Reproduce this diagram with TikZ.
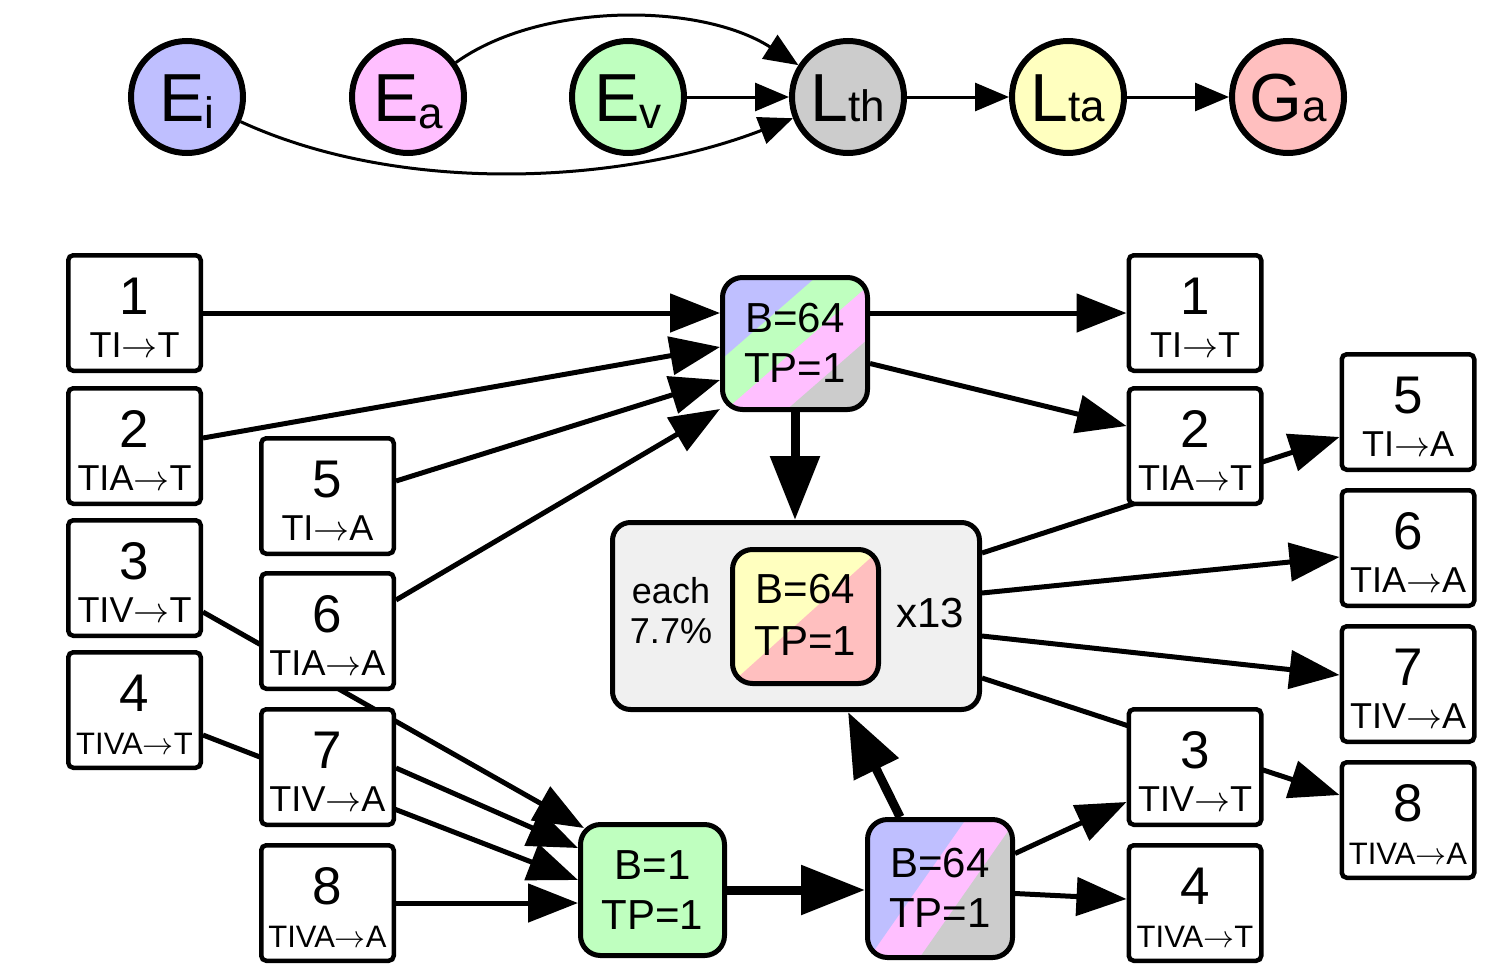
\RequirePackage{fix-cm}
\documentclass[tikz,border=0pt]{standalone}
\usepackage{fontspec}
\setmainfont{Liberation Sans}
\usetikzlibrary{arrows.meta,calc,backgrounds}

\definecolor{cBlue}{RGB}{191,191,255}
\definecolor{cPink}{RGB}{255,191,255}
\definecolor{cGreen}{RGB}{191,255,191}
\definecolor{cGrey}{RGB}{204,204,204}
\definecolor{cYellow}{RGB}{255,255,191}
\definecolor{cRed}{RGB}{255,191,191}
\definecolor{cPanel}{RGB}{240,240,240}

\newcommand\fsz[1]{\fontsize{#1}{#1}\selectfont}
\newcommand\lowsub[1]{\raisebox{-7pt}{\fsz{44}#1}}
\newcommand\smallpart[1]{{\fsz{44}#1}}
\newcommand\arr{$\rightarrow$}

% numbered operation box: name, x, y, number, caption, caption style
\newcommand\opbox[6]{%
  \node[kbox] (#1) at (#2,#3) {};
  \node[kdigit] (#1-d) at ([yshift=-1pt]#1.center) {#4};
  \node[#6] (#1-t) at ([yshift=-44pt]#1.center) {#5};
}
% two text lines inside a processing node
\newcommand\proclines[3]{%
  \node[ptext] (#1-a) at ([yshift=11pt]#1.center) {#2};
  \node[ptext] (#1-b) at ([yshift=-39pt]#1.center) {#3};
}

\tikzset{
  circ/.style={circle, draw, line width=6pt, minimum size=112pt, inner sep=0pt,
    text height=49pt, text depth=0pt, font=\fsz{68}},
  kbox/.style={draw, line width=4.5pt, rounded corners=5pt, fill=white,
    minimum width=132.5pt, minimum height=115.5pt, inner sep=0pt},
  kdigit/.style={anchor=base, inner sep=0pt, font=\fsz{53}},
  klab/.style={anchor=base, inner sep=0pt, font=\fsz{36}},
  klabs/.style={anchor=base, inner sep=0pt, font=\fsz{31}},
  proc/.style={draw, line width=5pt, rounded corners=20pt, inner sep=0pt},
  ptext/.style={anchor=base, inner sep=0pt, font=\fsz{42}},
  ftext/.style={anchor=base, inner sep=0pt, font=\fsz{36}},
  thinarrow/.style={line width=3pt, -{Triangle[length=34pt,width=28pt]}},
  edge/.style={line width=5pt, -{Triangle[length=50pt,width=38pt]}},
  boldedge/.style={line width=9pt, -{Triangle[length=64pt,width=48pt]}},
}

\begin{document}
\begin{tikzpicture}[x=1pt,y=-1pt]
\useasboundingbox (0,0) rectangle (1496,964);

% ---- top row: dependency chain ----
\node[circ, fill=cBlue]   (Ei)  at (187,97)  {E\lowsub{i}};
\node[circ, fill=cPink]   (Ea)  at (408,97)  {E\lowsub{a}};
\node[circ, fill=cGreen]  (Ev)  at (628,97)  {E\lowsub{v}};
\node[circ, fill=cGrey]   (Lth) at (848,97)  {L\smallpart{th}};
\node[circ, fill=cYellow] (Lta) at (1068,97) {L\smallpart{ta}};
\node[circ, fill=cRed]    (Ga)  at (1288,97) {G\smallpart{a}};

\draw[thinarrow] (Ev) -- (Lth);
\draw[thinarrow] (Lth) -- (Lta);
\draw[thinarrow] (Lta) -- (Ga);
\draw[thinarrow] (Ea) .. controls (540,2) and (700,2) .. (Lth);
\draw[thinarrow] (Ei) .. controls (400,195) and (620,185) .. (Lth);

% ---- input boxes ----
\opbox{L1}{134.5}{313}{1}{TI\arr T}{klab}
\opbox{L2}{134.5}{446}{2}{TIA\arr T}{klab}
\opbox{L3}{134.5}{578}{3}{TIV\arr T}{klab}
\opbox{L4}{134.5}{710}{4}{TIVA\arr T}{klabs}
\opbox{C5}{327.5}{496}{5}{TI\arr A}{klab}
\opbox{C6}{327.5}{631}{6}{TIA\arr A}{klab}
\opbox{C7}{327.5}{767}{7}{TIV\arr A}{klab}
\opbox{C8}{327.5}{903}{8}{TIVA\arr A}{klabs}

% ---- output boxes ----
\opbox{R1}{1195}{313}{1}{TI\arr T}{klab}
\opbox{R2}{1195}{446}{2}{TIA\arr T}{klab}
\opbox{R3}{1195}{767}{3}{TIV\arr T}{klab}
\opbox{R4}{1195}{903}{4}{TIVA\arr T}{klabs}
\opbox{F5}{1408}{412}{5}{TI\arr A}{klab}
\opbox{F6}{1408}{548}{6}{TIA\arr A}{klab}
\opbox{F7}{1408}{684}{7}{TIV\arr A}{klab}
\opbox{F8}{1408}{820}{8}{TIVA\arr A}{klabs}

% ---- processing nodes ----
\node[proc, minimum width=145pt, minimum height=132pt,
  path picture={
    \fill[cBlue] (path picture bounding box.north west) rectangle (path picture bounding box.south east);
    \fill[cGreen] ($(path picture bounding box.center)+(-90,30.3)$) -- ($(path picture bounding box.center)+(90,-126.3)$)
      -- ($(path picture bounding box.center)+(90,200)$) -- ($(path picture bounding box.center)+(-90,200)$) -- cycle;
    \fill[cPink] ($(path picture bounding box.center)+(-90,84.3)$) -- ($(path picture bounding box.center)+(90,-72.3)$)
      -- ($(path picture bounding box.center)+(90,200)$) -- ($(path picture bounding box.center)+(-90,200)$) -- cycle;
    \fill[cGrey] ($(path picture bounding box.center)+(-90,137.3)$) -- ($(path picture bounding box.center)+(90,-19.3)$)
      -- ($(path picture bounding box.center)+(90,200)$) -- ($(path picture bounding box.center)+(-90,200)$) -- cycle;
  }] (T) at (795,343.5) {};
\proclines{T}{B=64}{TP=1}

\node[proc, rounded corners=18pt, fill=cPanel, minimum width=367pt, minimum height=187pt] (G) at (796,616) {};
\node[proc, minimum width=146pt, minimum height=134pt,
  path picture={
    \fill[cYellow] (path picture bounding box.north west) rectangle (path picture bounding box.south east);
    \fill[cRed] ($(path picture bounding box.center)+(-90,81)$) -- ($(path picture bounding box.center)+(90,-81)$)
      -- ($(path picture bounding box.center)+(90,200)$) -- ($(path picture bounding box.center)+(-90,200)$) -- cycle;
  }] (I) at (805.5,616.5) {};
\node[ptext] (I-a) at ([yshift=13.5pt]I.center) {B=64};
\node[ptext] (I-b) at ([yshift=-38.5pt]I.center) {TP=1};
\node[ftext] (G-a) at ($(G.center)+(-125,-13)$) {each};
\node[ftext] (G-b) at ($(G.center)+(-125,27)$) {7.7\%};
\node[ptext] (G-c) at ($(G.center)+(134,11)$) {x13};

\node[proc, fill=cGreen, minimum width=144pt, minimum height=131pt] (B1) at (652.5,890) {};
\proclines{B1}{B=1}{TP=1}

\node[proc, minimum width=145pt, minimum height=138pt,
  path picture={
    \fill[cBlue] (path picture bounding box.north west) rectangle (path picture bounding box.south east);
    \fill[cPink] ($(path picture bounding box.center)+(-90,96.7)$) -- ($(path picture bounding box.center)+(90,-160.7)$)
      -- ($(path picture bounding box.center)+(90,200)$) -- ($(path picture bounding box.center)+(-90,200)$) -- cycle;
    \fill[cGrey] ($(path picture bounding box.center)+(-90,168.7)$) -- ($(path picture bounding box.center)+(90,-88.7)$)
      -- ($(path picture bounding box.center)+(90,200)$) -- ($(path picture bounding box.center)+(-90,200)$) -- cycle;
  }] (S) at (940,888.5) {};
\proclines{S}{B=64}{TP=1}

% ---- connectors (behind the boxes) ----
\begin{pgfonlayer}{background}
  % into the first processing node
  \draw[edge] (L1.east) -- (L1.east -| T.west);
  \draw[edge] ($(L2.east)+(0,-8)$) -- ($(T.west)+(0,3.5)$);
  \draw[edge] ($(C5.east)+(0,-15)$) -- ($(T.west)+(0,36.5)$);
  \draw[edge] ($(C6.east)+(0,-31)$) -- ($(T.west)+(0,65.5)$);
  % out of the first processing node
  \draw[edge] (R1.west -| T.east) -- (R1.west);
  \draw[edge] ($(T.east)+(0,20)$) -- ($(R2.west)+(0,-20)$);
  \draw[boldedge] (T.south) -- (T.south |- G.north);
  % out of the panel
  \draw[edge] ($(G.east)+(0,-63)$) -- ($(F5.west)+(0,25)$);
  \draw[edge] ($(G.east)+(0,-23)$) -- ($(F6.west)+(0,9)$);
  \draw[edge] ($(G.east)+(0,20)$) -- ($(F7.west)+(0,-9)$);
  \draw[edge] ($(G.east)+(0,62)$) -- ($(F8.west)+(0,-25)$);
  % into the B=1 node
  \draw[edge] ($(L3.east)+(0,34)$) -- ($(B1.north west)+(6,6)$);
  \draw[edge] ($(C7.east)+(0,1)$) -- ($(B1.west)+(0,-42)$);
  \draw[edge] ($(L4.east)+(0,25)$) -- ($(B1.west)+(0,-10)$);
  \draw[edge] (C8.east) -- (C8.east -| B1.west);
  % last processing node
  \draw[boldedge] (B1.east) -- (B1.east -| S.west);
  \draw[boldedge] ($(S.north)+(-40,0)$) -- ($(G.south)+(52,0)$);
  \draw[edge] ($(S.east)+(0,-35)$) -- ($(R3.west)+(0,35)$);
  \draw[edge] ($(S.east)+(0,5)$) -- ($(R4.west)+(0,-4)$);
\end{pgfonlayer}
\end{tikzpicture}
\end{document}
